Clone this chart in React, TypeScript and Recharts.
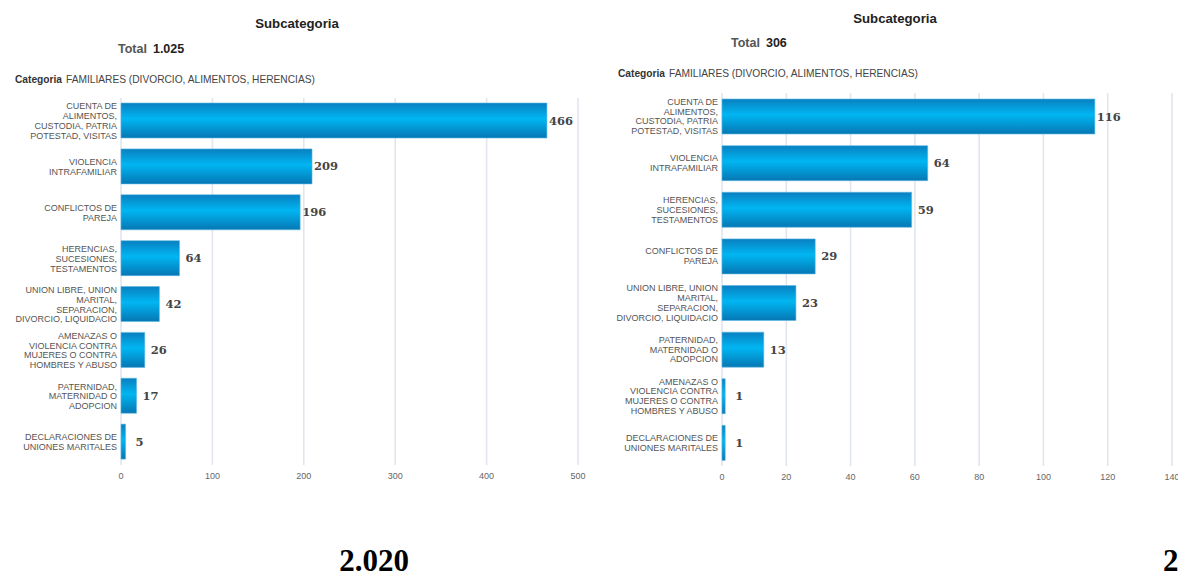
import React from "react";
import { BarChart, Bar, XAxis, YAxis, CartesianGrid, LabelList } from "recharts";

const leftCategories = [
  "CUENTA DE\nALIMENTOS,\nCUSTODIA, PATRIA\nPOTESTAD, VISITAS",
  "VIOLENCIA\nINTRAFAMILIAR",
  "CONFLICTOS DE\nPAREJA",
  "HERENCIAS,\nSUCESIONES,\nTESTAMENTOS",
  "UNION LIBRE, UNION\nMARITAL,\nSEPARACION,\nDIVORCIO, LIQUIDACIO",
  "AMENAZAS O\nVIOLENCIA CONTRA\nMUJERES O CONTRA\nHOMBRES Y ABUSO",
  "PATERNIDAD,\nMATERNIDAD O\nADOPCION",
  "DECLARACIONES DE\nUNIONES MARITALES",
];
const leftValues = [466, 209, 196, 64, 42, 26, 17, 5];
const leftTicks = [0, 100, 200, 300, 400, 500];

const rightCategories = [
  "CUENTA DE\nALIMENTOS,\nCUSTODIA, PATRIA\nPOTESTAD, VISITAS",
  "VIOLENCIA\nINTRAFAMILIAR",
  "HERENCIAS,\nSUCESIONES,\nTESTAMENTOS",
  "CONFLICTOS DE\nPAREJA",
  "UNION LIBRE, UNION\nMARITAL,\nSEPARACION,\nDIVORCIO, LIQUIDACIO",
  "PATERNIDAD,\nMATERNIDAD O\nADOPCION",
  "AMENAZAS O\nVIOLENCIA CONTRA\nMUJERES O CONTRA\nHOMBRES Y ABUSO",
  "DECLARACIONES DE\nUNIONES MARITALES",
];
const rightValues = [116, 64, 59, 29, 23, 13, 1, 1];
const rightTicks = [0, 20, 40, 60, 80, 100, 120, 140];

const leftData = leftCategories.map((name, i) => ({ name, value: leftValues[i] }));
const rightData = rightCategories.map((name, i) => ({ name, value: rightValues[i] }));

const SANS = "'Liberation Sans', Arial, sans-serif";

function makeTick(axisX: number) {
  return (props: any) => {
    const { y, payload } = props;
    const lines = String(payload.value).split("\n");
    const lh = 9.8;
    const n = lines.length;
    return (
      <text x={axisX - 4} y={y} textAnchor="end" fontSize={9} fill="#555" fontFamily={SANS}>
        {lines.map((l, i) => (
          <tspan key={i} x={axisX - 4} y={y + (i - (n - 1) / 2) * lh + 3.2}>
            {l}
          </tspan>
        ))}
      </text>
    );
  };
}

const valueLabel = (props: any) => {
  const { x, y, width, height, value } = props;
  return (
    <text
      x={Number(x) + Number(width) + 14}
      y={Number(y) + Number(height) / 2 + 4}
      textAnchor="middle"
      fontSize={11.5}
      fontWeight="bold"
      fontFamily="'DejaVu Serif', serif"
      fill="#444"
    >
      {value}
    </text>
  );
};

function Panel(props: {
  data: any[];
  width: number;
  height: number;
  axisWidth: number;
  top: number;
  right: number;
  max: number;
  ticks: number[];
  gid: string;
}) {
  const { data, width, height, axisWidth, top, right, max, ticks, gid } = props;
  return (
    <BarChart
      layout="vertical"
      width={width}
      height={height}
      data={data}
      margin={{ top, right, bottom: 0, left: 0 }}
    >
      <defs>
        <linearGradient id={gid} x1="0" y1="0" x2="0" y2="1">
          <stop offset="0%" stopColor="#0a7fc0" />
          <stop offset="45%" stopColor="#00b6f2" />
          <stop offset="100%" stopColor="#0677b4" />
        </linearGradient>
      </defs>
      <CartesianGrid horizontal={false} stroke="#e1e6ee" strokeWidth={1.6} />
      <XAxis
        type="number"
        domain={[0, max]}
        ticks={ticks}
        axisLine={false}
        tickLine={false}
        height={25}
        tick={{ fontSize: 9, fill: "#666", fontFamily: SANS }}
        interval={0}
      />
      <YAxis
        type="category"
        dataKey="name"
        width={axisWidth}
        axisLine={false}
        tickLine={false}
        interval={0}
        tick={makeTick(axisWidth)}
      />
      <Bar dataKey="value" fill={`url(#${gid})`} barSize={35} isAnimationActive={false} stroke="#5ab9e4" strokeWidth={0.6}>
        <LabelList dataKey="value" content={valueLabel} />
      </Bar>
    </BarChart>
  );
}

export default function App() {
  return (
    <div style={{ position: "absolute", left: 0, top: 0, width: 1178, height: 575, background: "#fff", overflow: "hidden" }}>
      <div style={{ position: "absolute", left: 0, top: 0 }}>
        <Panel data={leftData} width={590} height={490} axisWidth={121} top={98} right={12} max={500} ticks={leftTicks} gid="gl" />
      </div>
      <div style={{ position: "absolute", left: 590, top: 0 }}>
        <Panel data={rightData} width={588} height={491} axisWidth={132} top={93} right={6} max={140} ticks={rightTicks} gid="gr" />
      </div>
      <svg width={1178} height={575} style={{ position: "absolute", left: 0, top: 0, pointerEvents: "none" }}>
        <g fontFamily={SANS}>
          <text x={297} y={28} textAnchor="middle" fontSize={13.2} fontWeight="bold" fill="#222">Subcategoria</text>
          <text x={118} y={53} fontSize={12.5} fontWeight="bold">
            <tspan fill="#555">Total</tspan>
            <tspan fill="#222" dx={6}>1.025</tspan>
          </text>
          <text x={15} y={83} fontSize={10.2} fill="#444">
            <tspan fontWeight="bold" fill="#333">Categoria</tspan>
            <tspan dx={4}>FAMILIARES (DIVORCIO, ALIMENTOS, HERENCIAS)</tspan>
          </text>

          <text x={895} y={23} textAnchor="middle" fontSize={13.2} fontWeight="bold" fill="#222">Subcategoria</text>
          <text x={731} y={47} fontSize={12.5} fontWeight="bold">
            <tspan fill="#555">Total</tspan>
            <tspan fill="#222" dx={6}>306</tspan>
          </text>
          <text x={618} y={77} fontSize={10.2} fill="#444">
            <tspan fontWeight="bold" fill="#333">Categoria</tspan>
            <tspan dx={4}>FAMILIARES (DIVORCIO, ALIMENTOS, HERENCIAS)</tspan>
          </text>
        </g>
        <g fontFamily="'Liberation Serif', 'Times New Roman', serif" fontWeight="bold" fontSize={31} fill="#000">
          <text x={374} y={571} textAnchor="middle">2.020</text>
          <text x={1163} y={571}>2</text>
        </g>
      </svg>
    </div>
  );
}
